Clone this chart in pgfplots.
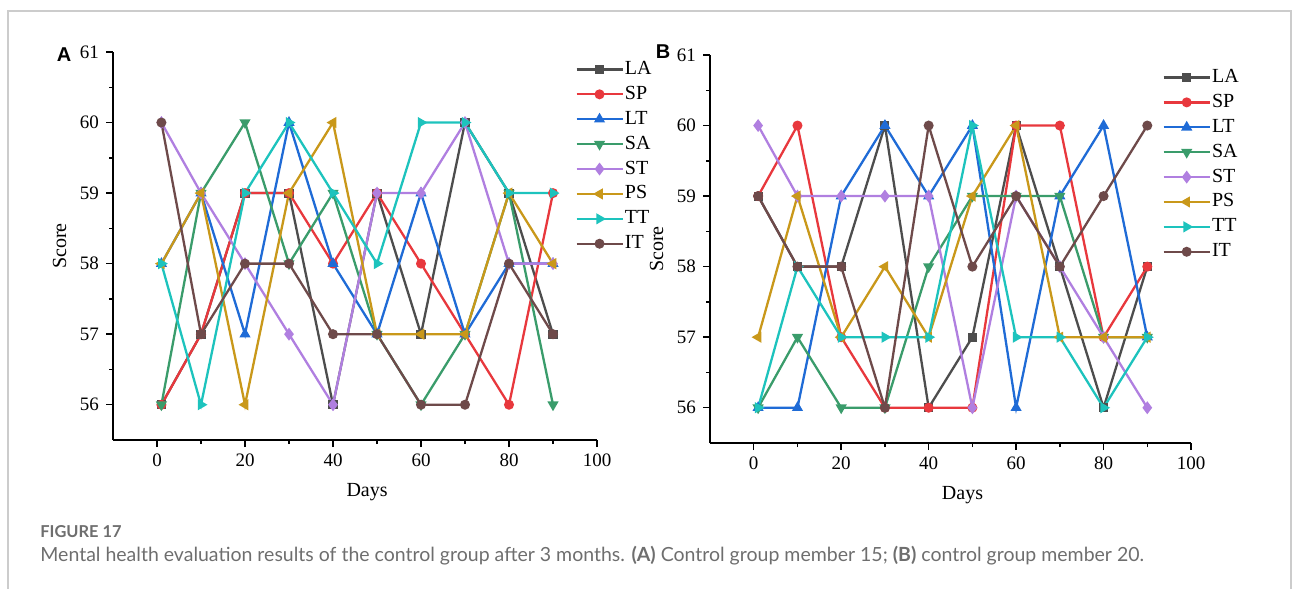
\documentclass[border=0pt]{standalone}
\usepackage{fontspec}
\setmainfont{Liberation Serif}
\newfontfamily\capfont{Lato}
\newfontfamily\panelfont{Liberation Sans}
\usepackage{pgfplots}
\pgfplotsset{compat=1.18}

\definecolor{cLA}{HTML}{4D4D4D}
\definecolor{cSP}{HTML}{E8383D}
\definecolor{cLT}{HTML}{1F6BD6}
\definecolor{cSA}{HTML}{3A9C6B}
\definecolor{cST}{HTML}{B07FE0}
\definecolor{cPS}{HTML}{C9981A}
\definecolor{cTT}{HTML}{1DC3BD}
\definecolor{cIT}{HTML}{6E4A4A}
\definecolor{capgray}{HTML}{6E6E6E}

\pgfplotsset{
  originstyle/.style={
    scale only axis,
    axis x line*=bottom, axis y line*=left,
    axis line style={-, line width=0.75pt},
    tick align=outside,
    major tick length=3.5pt, minor tick length=2pt,
    every tick/.style={line width=0.75pt, black},
    xmin=-10, xmax=100, ymin=55.5, ymax=61,
    xtick={0,20,...,100}, ytick={56,...,61},
    minor x tick num=1, minor y tick num=1,
    /pgf/number format/assume math mode=true,
    ticklabel style={font=\fontsize{9.5}{11}\selectfont},
    label style={font=\fontsize{10}{12}\selectfont},
    xlabel={Days}, ylabel={Score},
    xlabel style={at={(ticklabel cs:0.525)}, anchor=near ticklabel, yshift=-1.5pt},
    every axis plot/.append style={line width=1.15pt, mark size=1.9pt, mark options={solid}},
    legend cell align=left,
    legend style={draw=none, fill=none, inner sep=0pt, row sep=1.25pt,
      font=\fontsize{10}{12}\selectfont,
      nodes={inner sep=0.6pt, text height=7.5pt, text depth=2.5pt}},
    legend image code/.code={\draw[mark repeat=2,mark phase=2] plot coordinates {(0pt,0pt) (11.5pt,0pt) (23pt,0pt)};},
  },
  sLA/.style={color=cLA, mark=square*, mark size=1.7pt},
  sSP/.style={color=cSP, mark=*},
  sLT/.style={color=cLT, mark=triangle*, mark size=2.1pt},
  sSA/.style={color=cSA, mark=triangle*, mark size=2.1pt, mark options={rotate=180}},
  sST/.style={color=cST, mark=diamond*, mark size=2.3pt},
  sPS/.style={color=cPS, mark=triangle*, mark size=2.1pt, mark options={rotate=90}},
  sTT/.style={color=cTT, mark=triangle*, mark size=2.1pt, mark options={rotate=-90}},
  sIT/.style={color=cIT, mark=*},
}

\begin{document}
\begin{tikzpicture}
\begin{scope}[x=0.5pt, y=-0.5pt]
  \useasboundingbox (0,0) rectangle (1293,588);
  \draw[black!20, line width=1pt] (8,600) -- (8,11) -- (1291,11) -- (1291,600);
  \node[font=\panelfont\bfseries\fontsize{10}{12}\selectfont] at (64,55) {A};
  \node[font=\panelfont\bfseries\fontsize{10}{12}\selectfont] at (663,52) {B};
  \node[anchor=base west, text=capgray, font=\capfont\bfseries\fontsize{8.2}{9}\selectfont, inner sep=0pt] at (40,537) {FIGURE 17};
  \node[anchor=base west, text=capgray, font=\capfont\fontsize{9.75}{11}\selectfont, inner sep=0pt] at (40,561)
    {Mental health evaluation results of the control group after 3 months. \textbf{(A)} Control group member 15; \textbf{(B)} control group member 20.};
\end{scope}

% Panel A
\begin{axis}[originstyle, at={(56.5pt,-220pt)}, anchor=south west,
  width=242pt, height=194pt,
  legend style={at={(0.9545,0.985)}, anchor=north west}]
\addplot[sLA] coordinates {(1,56)(10,57)(20,59)(30,59)(40,56)(50,59)(60,57)(70,60)(80,59)(90,57)};
\addplot[sSP] coordinates {(1,56)(10,57)(20,59)(30,59)(40,58)(50,59)(60,58)(70,57)(80,56)(90,59)};
\addplot[sLT] coordinates {(1,58)(10,59)(20,57)(30,60)(40,58)(50,57)(60,59)(70,57)(80,58)(90,58)};
\addplot[sSA] coordinates {(1,56)(10,59)(20,60)(30,58)(40,59)(50,57)(60,56)(70,57)(80,59)(90,56)};
\addplot[sST] coordinates {(1,60)(10,59)(20,58)(30,57)(40,56)(50,59)(60,59)(70,60)(80,58)(90,58)};
\addplot[sPS] coordinates {(1,58)(10,59)(20,56)(30,59)(40,60)(50,57)(60,57)(70,57)(80,59)(90,58)};
\addplot[sTT] coordinates {(1,58)(10,56)(20,59)(30,60)(40,59)(50,58)(60,60)(70,60)(80,59)(90,59)};
\addplot[sIT] coordinates {(1,60)(10,57)(20,58)(30,58)(40,57)(50,57)(60,56)(70,56)(80,58)(90,57)};
\legend{LA,SP,LT,SA,ST,PS,TT,IT}
\end{axis}

% Panel B
\begin{axis}[originstyle, at={(355pt,-221.5pt)}, anchor=south west,
  width=240.5pt, height=194pt,
  legend style={at={(0.94,0.972)}, anchor=north west}]
\addplot[sLA] coordinates {(1,59)(10,58)(20,58)(30,60)(40,56)(50,57)(60,60)(70,58)(80,56)(90,58)};
\addplot[sSP] coordinates {(1,59)(10,60)(20,57)(30,56)(40,56)(50,56)(60,60)(70,60)(80,57)(90,58)};
\addplot[sLT] coordinates {(1,56)(10,56)(20,59)(30,60)(40,59)(50,60)(60,56)(70,59)(80,60)(90,57)};
\addplot[sSA] coordinates {(1,56)(10,57)(20,56)(30,56)(40,58)(50,59)(60,59)(70,59)(80,57)(90,57)};
\addplot[sST] coordinates {(1,60)(10,59)(20,59)(30,59)(40,59)(50,56)(60,59)(70,58)(80,57)(90,56)};
\addplot[sPS] coordinates {(1,57)(10,59)(20,57)(30,58)(40,57)(50,59)(60,60)(70,57)(80,57)(90,57)};
\addplot[sTT] coordinates {(1,56)(10,58)(20,57)(30,57)(40,57)(50,60)(60,57)(70,57)(80,56)(90,57)};
\addplot[sIT] coordinates {(1,59)(10,58)(20,58)(30,56)(40,60)(50,58)(60,59)(70,58)(80,59)(90,60)};
\legend{LA,SP,LT,SA,ST,PS,TT,IT}
\end{axis}
\end{tikzpicture}
\end{document}
